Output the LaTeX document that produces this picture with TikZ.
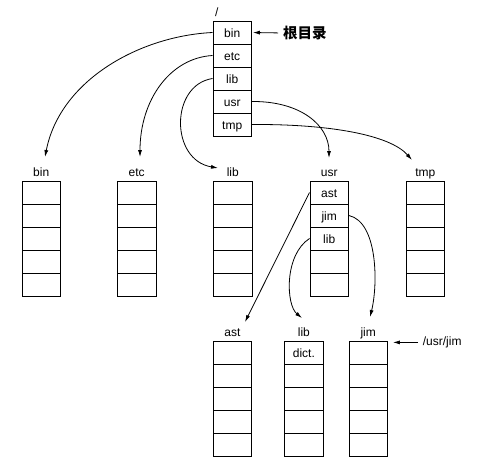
\documentclass[tikz,border=0pt]{standalone}
\usepackage{fontspec}
\setmainfont{Liberation Sans}
\newfontfamily\cjk{Noto Sans CJK SC}
\usetikzlibrary{arrows.meta}
\newcommand\dirblk[4]{%
  \foreach \txt [count=\i] in {#4} {%
    \node[cell] (#1\i) at (#2,{#3+(\i-0.5)*23}) {\txt};}}
\begin{document}
\begin{tikzpicture}[x=1pt,y=-1pt,
  cell/.style={draw,line width=0.9pt,minimum width=38.5pt,minimum height=23pt,
    inner sep=0pt,text height=9.5pt,text depth=0.5pt,
    font=\fontsize{12}{14}\selectfont},
  lab/.style={anchor=base,inner sep=0pt,font=\fontsize{12}{14}\selectfont},
  link/.style={-{Latex[length=7pt,width=4pt]},line width=0.8pt}]
\useasboundingbox (0,0) rectangle (484,463);
% root directory
\dirblk{r}{232.2}{21}{bin,etc,lib,usr,tmp}
\node[lab] (lroot) at (216.7,16.5) {/};
\node[anchor=west,inner sep=0pt,font=\cjk\bfseries\fontsize{14.5}{16}\selectfont] (rootlab) at (283,33) {根目录};
% second level
\dirblk{b}{41.2}{181}{{},{},{},{},{}}
\dirblk{e}{136.7}{181}{{},{},{},{},{}}
\dirblk{l}{232.8}{181}{{},{},{},{},{}}
\dirblk{u}{329.2}{181}{ast,jim,lib,{},{}}
\dirblk{t}{425.3}{181}{{},{},{},{},{}}
\node[lab] (lbin) at (41.2,176.5) {bin};
\node[lab] (letc) at (136.7,176.5) {etc};
\node[lab] (llib) at (232.8,176.5) {lib};
\node[lab] (lusr) at (329.2,176.5) {usr};
\node[lab] (ltmp) at (425.3,176.5) {tmp};
% third level
\dirblk{a}{232.5}{341}{{},{},{},{},{}}
\dirblk{m}{303.9}{341}{dict.,{},{},{},{}}
\dirblk{j}{368.2}{341}{{},{},{},{},{}}
\node[lab] (last) at (232.5,336.5) {ast};
\node[lab] (llib3) at (303.9,336.5) {lib};
\node[lab] (ljim) at (368.2,336.5) {jim};
\node[anchor=base west,inner sep=0pt,font=\fontsize{12}{14}\selectfont] (ujim) at (422.7,345.5) {/usr/jim};
% arrow tips
\coordinate (tbin) at (45,157);
\coordinate (tetc) at (140,157);
\coordinate (tlib) at (218,168);
\coordinate (tusr) at (329,158);
\coordinate (ttmp) at (412,160);
\coordinate (tast) at (245,322);
\coordinate (tlibc) at (302,318);
\coordinate (tjim) at (370,317);
% connectors
\draw[link] (r1.west) .. controls (140,36) and (60,80) .. (tbin);
\draw[link] (r2.west) .. controls (170,58) and (140,100) .. (tetc);
\draw[link] (r3.west) .. controls (170,85) and (170,160) .. (tlib);
\draw[link] (r4.east) .. controls (300,101) and (329,125) .. (tusr);
\draw[link] (r5.east) .. controls (330,124) and (390,135) .. (ttmp);
\draw[link] (u1.west) -- (tast);
\draw[link] (u3.west) .. controls (284,255) and (286,305) .. (tlibc);
\draw[link] (u2.east) .. controls (378,222) and (378,285) .. (tjim);
\draw[link,shorten <=5pt,shorten >=1pt] (rootlab.west) -- (r1.east);
\draw[link,shorten <=4.5pt,shorten >=5pt] (ujim.west) -- (ujim.west -| j1.east);
\end{tikzpicture}
\end{document}
